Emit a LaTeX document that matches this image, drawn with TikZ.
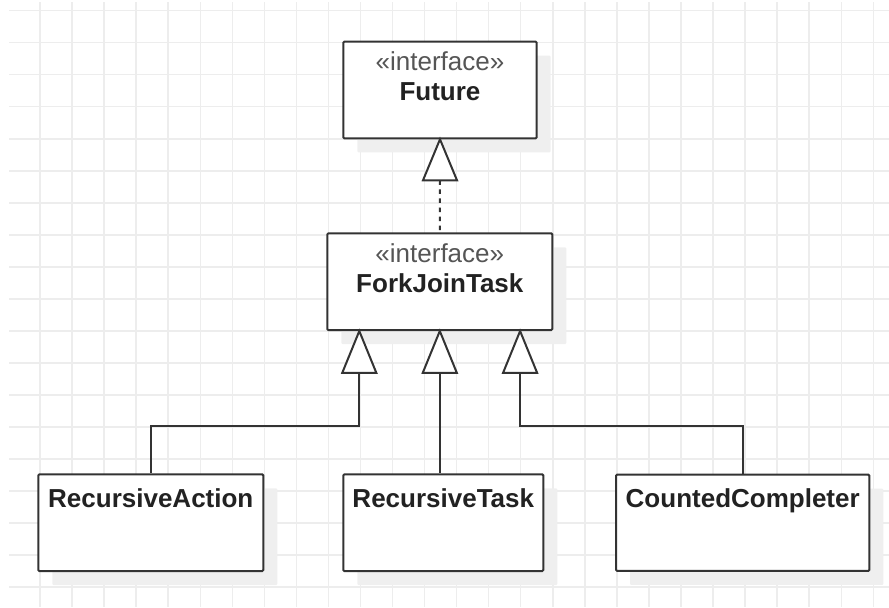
\documentclass[tikz,border=0pt]{standalone}
\usepackage{fontspec}
\setmainfont{Liberation Sans}
\usetikzlibrary{calc,shadows}

\definecolor{gridline}{HTML}{EDEDED}
\definecolor{shade}{HTML}{EFEFEF}
\definecolor{ink}{HTML}{333333}
\definecolor{stereo}{HTML}{555555}
\definecolor{title}{HTML}{222222}

\tikzset{
  gridln/.style={draw=gridline, line width=1.1pt},
  umlbox/.style n args={2}{draw=ink, line width=1.5pt, fill=white,
    rounded corners=0.8pt, inner sep=0pt,
    minimum width=#1*0.75pt, minimum height=#2*0.75pt,
    drop shadow={shadow xshift=10.5pt, shadow yshift=-10.5pt,
      fill=shade, opacity=1, draw=none}},
  stereotxt/.style={text=stereo, inner sep=0pt, anchor=base,
    font=\fontsize{19.5}{23}\selectfont},
  nametxt/.style={text=title, inner sep=0pt, anchor=base,
    font=\fontsize{19.5}{23}\selectfont\bfseries},
  conn/.style={draw=ink, line width=1.5pt},
  realize/.style={draw=ink, line width=1.5pt, dash pattern=on 3.4pt off 3.4pt},
  hollowtri/.style={draw=ink, line width=1.5pt, fill=white, line join=miter}
}

\begin{document}
\begin{tikzpicture}[x=0.75pt, y=-0.75pt]
\useasboundingbox (0,0) rectangle (889,607);

% background grid
\foreach \k in {0,...,26}
  \draw[gridln] ({40+32.05*\k},2) -- ({40+32.05*\k},607);
\foreach \k in {0,...,18}
  \draw[gridln] (9,{10.7+32.02*\k}) -- (889,{10.7+32.02*\k});

% class boxes
\node[umlbox={193.4}{96.6}] (fut) at (440,90) {};
\node[umlbox={225}{96.7}]   (fjt) at (439.8,281.7) {};
\node[umlbox={225}{96.7}]   (ra)  at (150.8,522.7) {};
\node[umlbox={200}{96.7}]   (rt)  at (443.3,522.7) {};
\node[umlbox={253.3}{96.3}] (cc)  at (742.7,522.8) {};

% box texts
\node[stereotxt] (futst) at ($(fut.north)+(0,30)$) {«interface»};
\node[nametxt]   (futnm) at ($(fut.north)+(0,60)$) {Future};
\node[stereotxt] (fjtst) at ($(fjt.north)+(0,30)$) {«interface»};
\node[nametxt]   (fjtnm) at ($(fjt.north)+(0,60.5)$) {ForkJoinTask};
\node[nametxt]   (ranm)  at ($(ra.north)+(0,34)$) {RecursiveAction};
\node[nametxt]   (rtnm)  at ($(rt.north)+(0,34)$) {RecursiveTask};
\node[nametxt]   (ccnm)  at ($(cc.north)+(0,33.6)$) {CountedCompleter};

% arrow apexes and triangle bases
\coordinate (a0) at (fut.south);
\coordinate (b0) at ($(fut.south)+(0,41)$);
\coordinate (a1) at ($(fjt.south)+(-80.5,0)$);
\coordinate (a2) at (fjt.south);
\coordinate (a3) at ($(fjt.south)+(80.3,0)$);
\coordinate (b1) at ($(a1)+(0,41.7)$);
\coordinate (b2) at ($(a2)+(0,41.7)$);
\coordinate (b3) at ($(a3)+(0,41.7)$);
\coordinate (bend) at (0,426);

% realization: ForkJoinTask -> Future
\draw[realize] (b0) -- (fjt.north);

% generalizations
\draw[conn] (b1) -- (b1 |- bend) -- (ra.north |- bend) -- (ra.north);
\draw[conn] (b2) -- (b2 |- rt.north);
\draw[conn] (b3) -- (b3 |- bend) -- (cc.north |- bend) -- (cc.north);

% hollow triangle heads
\foreach \a/\b in {a0/b0, a1/b1, a2/b2, a3/b3}
  \draw[hollowtri] (\a) -- ($(\b)+(17,0)$) -- ($(\b)+(-17,0)$) -- cycle;
\end{tikzpicture}
\end{document}
